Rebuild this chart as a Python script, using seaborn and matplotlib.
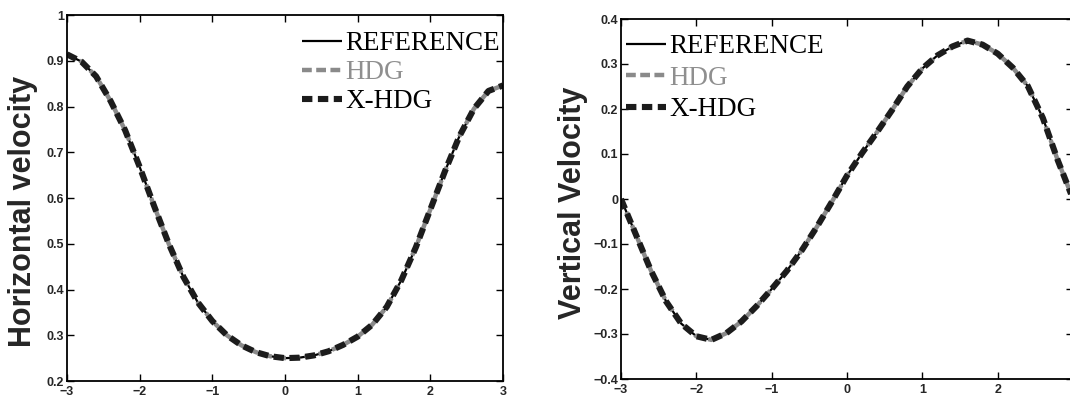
import numpy as np
import pandas as pd
import matplotlib
matplotlib.use("Agg")
import matplotlib.pyplot as plt
import seaborn as sns

# ---------------- data ----------------
x_pts = [-3.0, -2.8, -2.6, -2.4, -2.2, -2.0, -1.8, -1.6, -1.4, -1.2, -1.0,
         -0.8, -0.6, -0.4, -0.2, 0.0, 0.2, 0.4, 0.6, 0.8, 1.0, 1.2, 1.4,
         1.6, 1.8, 2.0, 2.2, 2.4, 2.6, 2.8, 3.0]

horiz_ref = [0.914, 0.898, 0.866, 0.812, 0.748, 0.668, 0.582, 0.500, 0.428,
             0.372, 0.331, 0.300, 0.278, 0.263, 0.254, 0.250, 0.251, 0.256,
             0.265, 0.279, 0.297, 0.323, 0.362, 0.420, 0.492, 0.575, 0.658,
             0.735, 0.795, 0.834, 0.846]
horiz_hdg = list(horiz_ref)
horiz_xhdg = list(horiz_ref)

vert_ref = [0.000, -0.080, -0.160, -0.228, -0.277, -0.305, -0.313, -0.298,
            -0.272, -0.238, -0.200, -0.160, -0.114, -0.062, -0.006, 0.052,
            0.102, 0.149, 0.198, 0.250, 0.290, 0.319, 0.339, 0.352, 0.343,
            0.323, 0.292, 0.251, 0.180, 0.085, 0.000]
vert_hdg = list(vert_ref)
vert_xhdg = list(vert_ref)

series_names = ["REFERENCE", "HDG", "X-HDG"]
x_ticks = [-3, -2, -1, 0, 1, 2, 3]
x_ticklabels_left = ["\u22123", "\u22122", "\u22121", "0", "1", "2", "3"]
x_ticklabels_right = ["\u22123", "\u22122", "\u22121", "0", "1", "2", ""]
h_yticks = [0.2, 0.3, 0.4, 0.5, 0.6, 0.7, 0.8, 0.9, 1.0]
h_yticklabels = ["0.2", "0.3", "0.4", "0.5", "0.6", "0.7", "0.8", "0.9", "1"]
v_yticks = [-0.4, -0.3, -0.2, -0.1, 0.0, 0.1, 0.2, 0.3, 0.4]
v_yticklabels = ["\u22120.4", "\u22120.3", "\u22120.2", "\u22120.1", "0",
                 "0.1", "0.2", "0.3", "0.4"]

# ---------------- style ----------------
sns.set_style("ticks")
plt.rcParams["font.family"] = ["Liberation Sans", "DejaVu Sans"]

fig = plt.figure(figsize=(10.7, 3.96), dpi=100)
ax1 = fig.add_axes([67 / 1070, 1 - 381 / 396, 436 / 1070, 366 / 396])
ax2 = fig.add_axes([621 / 1070, 1 - 379 / 396, 452 / 1070, 360 / 396])

styles = {
    "REFERENCE": dict(color="black", lw=1.6, linestyle="-"),
    "HDG": dict(color="#8a8a8a", lw=3.2, linestyle=(0, (2.2, 1.0))),
    "X-HDG": dict(color="#1c1c1c", lw=4.4, linestyle=(0, (1.7, 0.9))),
}
text_colors = {"REFERENCE": "black", "HDG": "#8f8f8f", "X-HDG": "black"}


def draw(ax, ys, ylabel, xticklabels, yticks, yticklabels, ylim,
         legend_anchor, labelspacing, label_coords):
    for name, y in zip(series_names, ys):
        df = pd.DataFrame({"x": x_pts, "y": y})
        st = styles[name]
        sns.lineplot(data=df, x="x", y="y", ax=ax, color=st["color"],
                     lw=st["lw"], linestyle=st["linestyle"], label=name,
                     dash_capstyle="butt", solid_capstyle="butt")
    ax.set_xlim(-3, 3)
    ax.set_ylim(*ylim)
    ax.set_xticks(x_ticks)
    ax.set_xticklabels(xticklabels)
    ax.set_yticks(yticks)
    ax.set_yticklabels(yticklabels)
    ax.set_xlabel("")
    ax.set_ylabel(ylabel, fontsize=22, fontweight="bold")
    ax.yaxis.set_label_coords(*label_coords)
    ax.tick_params(direction="in", top=True, right=True, length=5,
                   width=1.0, labelsize=9, pad=2, color="black")
    ax.tick_params(axis="x", pad=3.5)
    for lab in ax.get_xticklabels() + ax.get_yticklabels():
        lab.set_fontweight("bold")
    for sp in ax.spines.values():
        sp.set_visible(True)
        sp.set_linewidth(1.3)
        sp.set_color("black")
    leg = ax.legend(loc="upper left", bbox_to_anchor=legend_anchor,
                    frameon=False, borderpad=0, borderaxespad=0,
                    handlelength=1.45, handletextpad=0.15,
                    labelspacing=labelspacing,
                    prop={"family": "Liberation Serif", "size": 19.5})
    for t in leg.get_texts():
        t.set_color(text_colors[t.get_text()])


draw(ax1, [horiz_ref, horiz_hdg, horiz_xhdg], "Horizontal velocity",
     x_ticklabels_left, h_yticks, h_yticklabels, (0.2, 1.0),
     (0.54, 0.955), 0.14, (-0.066, 0.462))
draw(ax2, [vert_ref, vert_hdg, vert_xhdg], "Vertical Velocity",
     x_ticklabels_right, v_yticks, v_yticklabels, (-0.4, 0.4),
     (0.012, 0.958), 0.24, (-0.073, 0.49))

fig.savefig("out.png", dpi=100)
